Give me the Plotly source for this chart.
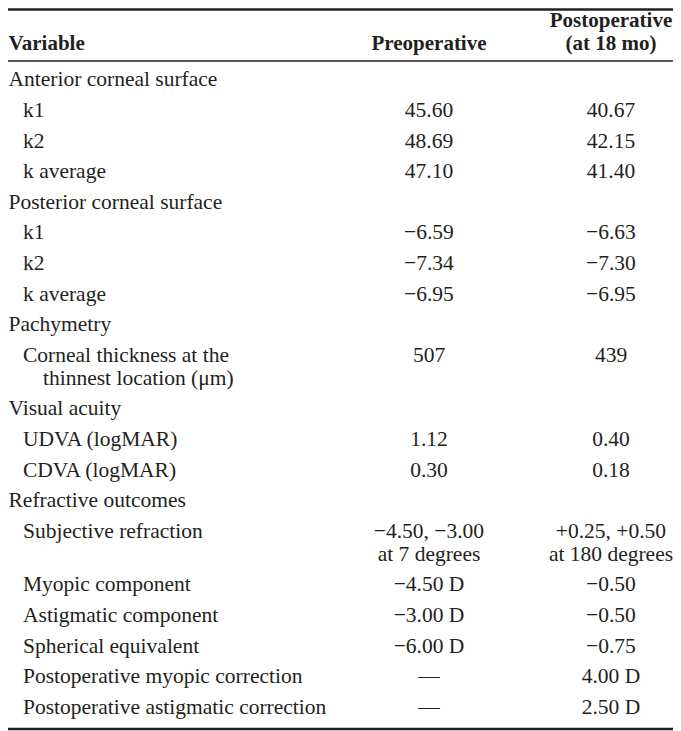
import plotly.graph_objects as go

# table content
header_variable = "Variable"
header_preop = "Preoperative"
header_postop = ["Postoperative", "(at 18 mo)"]

variables = [
    "Anterior corneal surface", "k1", "k2", "k average",
    "Posterior corneal surface", "k1", "k2", "k average",
    "Pachymetry", "Corneal thickness at the\nthinnest location (μm)",
    "Visual acuity", "UDVA (logMAR)", "CDVA (logMAR)",
    "Refractive outcomes", "Subjective refraction", "Myopic component",
    "Astigmatic component", "Spherical equivalent",
    "Postoperative myopic correction", "Postoperative astigmatic correction",
]
levels = [0, 1, 1, 1, 0, 1, 1, 1, 0, 1, 0, 1, 1, 0, 1, 1, 1, 1, 1, 1]
preop = [
    "", "45.60", "48.69", "47.10",
    "", "−6.59", "−7.34", "−6.95",
    "", "507",
    "", "1.12", "0.30",
    "", "−4.50, −3.00\nat 7 degrees", "−4.50 D", "−3.00 D", "−6.00 D", "—", "—",
]
postop = [
    "", "40.67", "42.15", "41.40",
    "", "−6.63", "−7.30", "−6.95",
    "", "439",
    "", "0.40", "0.18",
    "", "+0.25, +0.50\nat 180 degrees", "−0.50", "−0.50", "−0.75", "4.00 D", "2.50 D",
]

W, H = 681, 731
OFF = 8  # page body margin of the browser
FONT = "Liberation Serif"
SIZE = 21.5
HEAD_SIZE = 21
INK = "#231f20"
x_var, x_pre, x_post = 8.5, 429, 611
indent_step = 20
row_h, sub_h = 30.6, 23

fig = go.Figure()

# horizontal rules
for yy, lw in [(9.5, 2.5), (61, 1.6), (729, 2.5)]:
    fig.add_trace(go.Scatter(x=[OFF, W + OFF], y=[yy, yy], mode="lines",
                             line=dict(color=INK, width=lw),
                             hoverinfo="skip", showlegend=False, cliponaxis=False))

# header
hx = [x_var, x_pre, x_post, x_post]
hy = [45, 45, 22, 45]
ht = ["<b>" + t + "</b>" for t in [header_variable, header_preop] + header_postop]
fig.add_trace(go.Scatter(
    x=hx, y=hy, text=ht, mode="text",
    textposition=["middle right", "middle center", "middle center", "middle center"],
    textfont=dict(family=FONT, size=HEAD_SIZE, color=INK),
    hoverinfo="skip", showlegend=False, cliponaxis=False,
))

# body
xs, ys, texts, pos = [], [], [], []
y = 81
for var, lvl, a, b in zip(variables, levels, preop, postop):
    nlines = 1
    for j, line in enumerate(var.split("\n")):
        xs.append(3 + (lvl + j) * indent_step if (lvl + j) else x_var)
        ys.append(y + j * sub_h); texts.append(line); pos.append("middle right")
        nlines = max(nlines, j + 1)
    for cell, cx in [(a, x_pre), (b, x_post)]:
        for j, line in enumerate(cell.split("\n")):
            if line:
                xs.append(cx); ys.append(y + j * sub_h); texts.append(line); pos.append("middle center")
            nlines = max(nlines, j + 1)
    y += row_h + (nlines - 1) * sub_h

fig.add_trace(go.Scatter(
    x=xs, y=ys, text=texts, mode="text", textposition=pos,
    textfont=dict(family=FONT, size=SIZE, color=INK),
    hoverinfo="skip", showlegend=False, cliponaxis=False,
))

fig.update_layout(
    width=W, height=H, margin=dict(l=0, r=0, t=0, b=0),
    paper_bgcolor="white", plot_bgcolor="white",
    xaxis=dict(range=[OFF, W + OFF], visible=False, fixedrange=True),
    yaxis=dict(range=[H + OFF, OFF], visible=False, fixedrange=True),
)

fig.write_html("out.html")
